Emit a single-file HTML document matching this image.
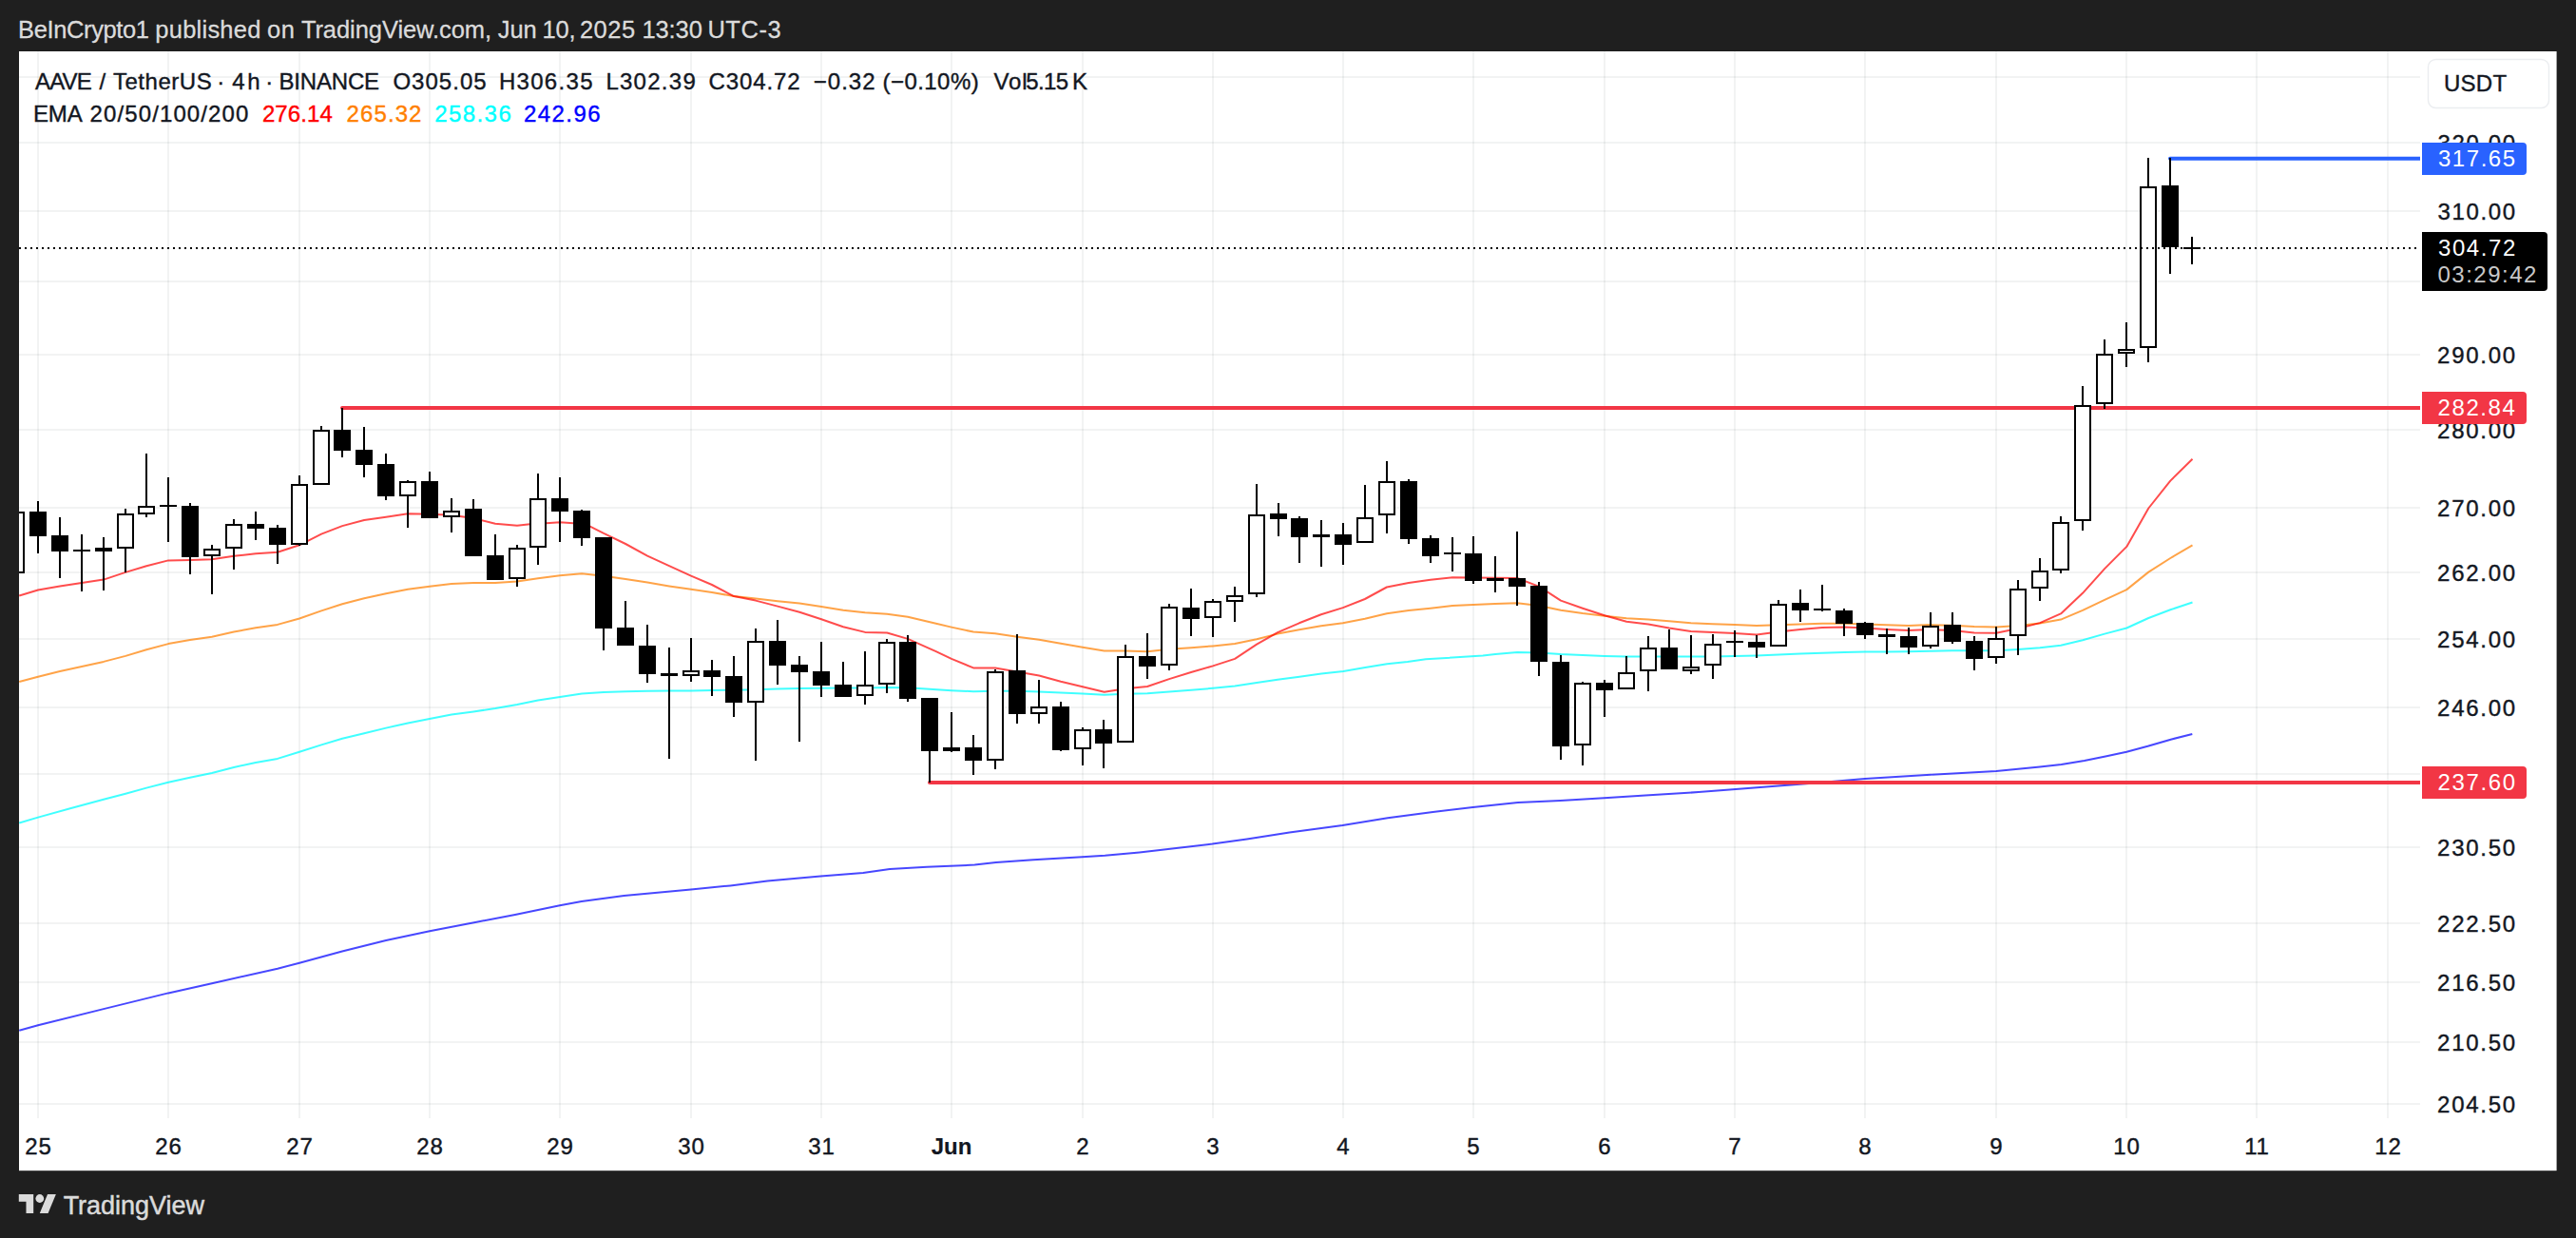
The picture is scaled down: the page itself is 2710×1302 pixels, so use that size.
<!DOCTYPE html>
<html lang="en"><head><meta charset="utf-8"><title>AAVE / TetherUS chart</title>
<style>
html,body{margin:0;padding:0;background:#1f1f1f;}
body{width:2710px;height:1302px;overflow:hidden;position:relative;font-family:"Liberation Sans",sans-serif;}
#snap{position:absolute;left:0;top:0;width:2710px;height:1302px;display:block;}
#snap text{font-family:"Liberation Sans",sans-serif;}
</style></head><body>
<svg id="snap" width="2710" height="1302" viewBox="0 0 2710 1302">
<rect x="0" y="0" width="2710" height="1302" fill="#1f1f1f"/>
<text y="40.3" font-size="25.5" stroke-width="0.3"><tspan x="19.06" letter-spacing="-0.379" fill="#dbdbdb" stroke="#dbdbdb">BeInCrypto1</tspan> <tspan x="163.37" letter-spacing="0.228" fill="#dbdbdb" stroke="#dbdbdb">published</tspan> <tspan x="280.98" letter-spacing="0.645" fill="#dbdbdb" stroke="#dbdbdb">on</tspan> <tspan x="316.89" letter-spacing="-0.068" fill="#dbdbdb" stroke="#dbdbdb">TradingView.com,</tspan> <tspan x="523.82" letter-spacing="-0.171" fill="#dbdbdb" stroke="#dbdbdb">Jun</tspan> <tspan x="570.49" letter-spacing="-0.119" fill="#dbdbdb" stroke="#dbdbdb">10,</tspan> <tspan x="609.93" letter-spacing="0.486" fill="#dbdbdb" stroke="#dbdbdb">2025</tspan> <tspan x="675.39" letter-spacing="-0.086" fill="#dbdbdb" stroke="#dbdbdb">13:30</tspan> <tspan x="744.39" letter-spacing="0.584" fill="#dbdbdb" stroke="#dbdbdb">UTC-3</tspan></text>
<rect x="20" y="54" width="2669.6" height="1177.2" fill="#ffffff"/>
<defs><clipPath id="plot"><rect x="20" y="54" width="2526" height="1122"/></clipPath></defs>
<g fill="rgba(42,46,57,0.06)"><rect x="39" y="54" width="2" height="1122"/><rect x="176" y="54" width="2" height="1122"/><rect x="314" y="54" width="2" height="1122"/><rect x="451" y="54" width="2" height="1122"/><rect x="588" y="54" width="2" height="1122"/><rect x="726" y="54" width="2" height="1122"/><rect x="863" y="54" width="2" height="1122"/><rect x="1000" y="54" width="2" height="1122"/><rect x="1138" y="54" width="2" height="1122"/><rect x="1275" y="54" width="2" height="1122"/><rect x="1412" y="54" width="2" height="1122"/><rect x="1549" y="54" width="2" height="1122"/><rect x="1687" y="54" width="2" height="1122"/><rect x="1824" y="54" width="2" height="1122"/><rect x="1961" y="54" width="2" height="1122"/><rect x="2099" y="54" width="2" height="1122"/><rect x="2236" y="54" width="2" height="1122"/><rect x="2373" y="54" width="2" height="1122"/><rect x="2511" y="54" width="2" height="1122"/><rect x="20" y="80" width="2526" height="2"/><rect x="20" y="149" width="2526" height="2"/><rect x="20" y="221" width="2526" height="2"/><rect x="20" y="295" width="2526" height="2"/><rect x="20" y="372" width="2526" height="2"/><rect x="20" y="451" width="2526" height="2"/><rect x="20" y="533" width="2526" height="2"/><rect x="20" y="601" width="2526" height="2"/><rect x="20" y="671" width="2526" height="2"/><rect x="20" y="743" width="2526" height="2"/><rect x="20" y="813" width="2526" height="2"/><rect x="20" y="890" width="2526" height="2"/><rect x="20" y="970" width="2526" height="2"/><rect x="20" y="1032" width="2526" height="2"/><rect x="20" y="1095" width="2526" height="2"/><rect x="20" y="1160" width="2526" height="2"/></g>
<g clip-path="url(#plot)">
<polyline points="20.2,1083.7 40.0,1078.3 109.0,1061.1 177.1,1044.4 222.9,1034.3 292.0,1018.7 315.0,1012.7 360.0,1000.5 406.1,989.0 452.0,979.3 500.0,969.9 541.9,962.1 588.9,952.3 611.8,948.1 656.5,942.0 726.9,935.6 768.3,931.4 807.4,926.6 863.3,921.6 908.0,917.9 936.0,914.0 975.1,911.8 1025.4,909.6 1047.8,907.0 1086.9,904.2 1138.6,901.2 1162.4,899.8 1198.7,896.4 1275.5,887.6 1311.8,882.5 1356.5,875.5 1412.4,868.0 1459.9,860.2 1507.4,854.0 1549.4,849.0 1596.9,844.0 1641.6,842.0 1687.7,839.2 1731.0,836.4 1786.9,833.1 1826.0,830.0 1870.8,826.6 1900.0,824.2 1962.0,819.1 2031.0,814.7 2100.0,811.0 2146.0,806.4 2168.6,804.0 2192.8,799.9 2215.0,795.5 2237.2,790.8 2259.5,784.8 2283.7,777.7 2306.3,772.0" fill="none" stroke="#0000ff" stroke-width="2.0" stroke-opacity="0.72" stroke-linejoin="round" stroke-linecap="butt"/>
<polyline points="20.2,865.6 40.0,859.6 74.7,850.0 109.0,840.7 132.1,834.7 154.1,828.6 177.1,822.7 199.9,817.7 222.9,813.0 246.0,807.0 269.0,801.9 292.0,797.9 315.0,790.8 338.1,783.4 360.1,776.7 383.1,771.2 406.1,765.6 429.1,760.5 451.9,755.9 475.0,751.5 498.0,748.4 521.0,745.0 544.0,741.0 566.0,736.5 589.1,732.9 612.1,729.5 635.1,728.0 658.1,727.2 681.1,726.8 704.0,726.6 727.0,726.4 749.0,726.0 772.0,725.8 795.0,725.2 818.1,724.4 841.1,724.0 864.1,723.8 887.1,723.6 910.1,723.6 933.2,723.0 955.0,723.2 978.0,724.8 1001.0,726.2 1024.0,727.2 1047.0,726.8 1070.1,726.8 1093.1,727.6 1115.9,728.6 1138.9,729.6 1161.7,730.7 1184.0,729.8 1207.0,729.2 1230.0,727.6 1253.0,725.8 1276.0,723.8 1299.1,721.6 1322.1,718.1 1344.1,714.7 1367.1,711.7 1390.1,708.6 1413.2,706.0 1436.2,702.0 1459.2,698.3 1480.8,695.9 1500.0,693.3 1560.0,689.5 1573.1,688.1 1596.1,685.9 1619.2,686.5 1642.0,688.1 1665.0,689.1 1688.0,690.0 1711.1,690.4 1734.1,690.4 1755.9,690.6 1778.9,690.6 1801.9,690.4 1824.9,690.0 1848.0,689.5 1871.0,688.5 1894.0,687.5 1917.0,686.7 1940.1,686.1 1961.9,685.5 1984.9,685.5 2007.9,685.3 2030.9,684.8 2053.9,684.3 2076.9,684.3 2100.0,684.3 2123.0,682.9 2146.0,681.3 2168.0,678.7 2191.0,673.2 2214.1,666.6 2237.3,660.5 2260.3,650.0 2283.3,641.3 2306.5,633.5" fill="none" stroke="#00ffff" stroke-width="2.0" stroke-opacity="0.75" stroke-linejoin="round" stroke-linecap="butt"/>
<polyline points="20.2,717.1 40.0,711.7 63.0,706.0 86.0,701.0 109.0,695.9 132.1,689.9 154.1,683.2 177.1,677.1 199.9,673.1 222.9,669.7 246.0,664.6 269.0,660.2 292.0,656.9 315.0,650.5 338.1,642.4 360.1,635.3 383.1,629.3 406.1,624.2 429.1,619.8 451.9,616.8 475.0,614.1 498.0,613.1 521.0,613.0 544.0,611.4 566.0,608.3 589.1,605.3 612.1,603.3 635.1,605.7 658.1,608.9 681.1,612.6 704.0,616.4 727.0,619.8 749.0,622.9 772.0,627.1 795.0,629.5 818.1,632.2 841.1,634.6 864.1,638.0 887.1,641.7 910.1,644.3 933.2,645.7 955.0,648.7 984.7,655.8 1001.0,659.6 1024.0,664.6 1047.0,666.2 1070.1,669.7 1093.1,672.7 1115.9,676.7 1138.9,680.8 1161.7,684.4 1184.0,684.4 1207.0,685.2 1230.0,682.8 1253.0,681.2 1276.0,679.4 1299.1,677.1 1322.1,672.3 1344.1,666.6 1366.8,662.3 1389.8,658.3 1412.8,655.3 1435.9,650.8 1458.9,645.2 1481.9,642.1 1504.9,639.7 1528.0,637.1 1550.0,636.1 1573.0,635.1 1596.1,634.2 1619.2,637.0 1642.0,641.7 1665.0,645.1 1688.0,647.7 1711.1,650.2 1734.1,651.4 1755.9,653.2 1778.9,655.2 1801.9,656.2 1824.9,657.0 1848.0,658.0 1871.0,657.2 1894.0,656.4 1917.0,655.8 1940.1,655.8 1961.9,656.4 1984.9,657.2 2007.9,658.0 2030.9,657.1 2053.9,657.7 2076.9,659.1 2100.0,659.5 2123.0,658.1 2146.0,655.5 2168.0,651.6 2191.0,641.9 2214.1,630.8 2237.3,620.1 2260.3,601.6 2283.3,587.0 2306.5,573.3" fill="none" stroke="#ff8000" stroke-width="2.0" stroke-opacity="0.72" stroke-linejoin="round" stroke-linecap="butt"/>
<polyline points="20.2,626.6 40.0,620.5 63.0,616.5 86.0,613.0 109.0,609.6 132.1,601.9 154.1,595.3 177.1,589.4 199.9,589.0 222.9,588.2 246.0,584.8 269.0,582.2 292.0,580.7 315.0,573.3 338.1,561.6 360.1,553.1 383.1,547.0 406.1,543.8 429.1,540.3 451.9,540.8 475.0,541.8 498.0,545.0 521.0,550.8 544.0,552.8 557.6,551.2 574.7,550.2 589.1,549.2 603.0,550.2 621.2,553.8 635.1,560.9 658.1,572.0 681.1,584.7 704.0,595.2 727.0,605.7 749.0,615.0 772.0,627.1 795.0,631.6 818.1,637.6 841.1,643.7 864.1,651.3 887.1,659.2 910.1,664.9 933.2,665.5 955.0,671.9 984.7,685.1 1001.0,692.9 1024.0,702.4 1047.0,702.4 1070.1,706.4 1093.1,710.5 1115.9,716.7 1138.9,722.2 1161.7,727.8 1184.0,724.2 1207.0,722.0 1230.0,714.1 1253.0,707.0 1276.0,700.4 1299.1,692.9 1322.1,677.7 1344.1,665.2 1366.8,655.3 1389.8,646.2 1412.8,639.1 1435.9,630.0 1458.9,617.5 1481.9,612.9 1504.9,609.8 1528.0,607.2 1550.0,607.4 1573.0,607.8 1596.1,608.0 1619.2,616.9 1642.0,631.6 1665.0,639.7 1688.0,647.3 1711.1,653.8 1734.1,656.4 1755.9,660.5 1778.9,663.9 1801.9,664.9 1824.9,665.9 1848.0,667.5 1871.0,664.5 1894.0,661.9 1917.0,659.9 1940.1,659.5 1961.9,660.5 1984.9,661.9 2007.9,662.9 2030.9,662.1 2053.9,663.1 2076.9,665.6 2100.0,665.8 2123.0,661.1 2146.0,655.1 2168.0,645.4 2191.0,623.8 2214.1,598.1 2237.3,574.9 2260.3,534.5 2283.3,505.6 2306.5,482.8" fill="none" stroke="#ff0000" stroke-width="2.0" stroke-opacity="0.7" stroke-linejoin="round" stroke-linecap="butt"/>
<path d="M360,429 H2550 M978,823 H2550" stroke="#f23645" stroke-width="4" stroke-linecap="round" fill="none"/>
<path d="M2283,166.7 H2550" stroke="#2962ff" stroke-width="4" stroke-linecap="round" fill="none"/>
<rect x="16" y="538" width="2" height="65" fill="#000"/><rect x="9" y="539" width="16" height="63" fill="#fff" stroke="#000" stroke-width="2"/><rect x="39" y="527" width="2" height="55" fill="#000"/><rect x="31" y="538" width="18" height="26" fill="#000"/><rect x="62" y="544" width="2" height="64" fill="#000"/><rect x="54" y="563" width="18" height="17" fill="#000"/><rect x="85" y="562" width="2" height="60" fill="#000"/><rect x="77" y="578" width="18" height="2" fill="#000"/><rect x="108" y="565" width="2" height="56" fill="#000"/><rect x="100" y="576" width="18" height="4" fill="#000"/><rect x="131" y="535" width="2" height="67" fill="#000"/><rect x="124" y="541" width="16" height="35" fill="#fff" stroke="#000" stroke-width="2"/><rect x="153" y="477" width="2" height="67" fill="#000"/><rect x="146" y="533" width="16" height="7" fill="#fff" stroke="#000" stroke-width="2"/><rect x="176" y="502" width="2" height="68" fill="#000"/><rect x="168" y="531" width="18" height="2" fill="#000"/><rect x="199" y="529" width="2" height="75" fill="#000"/><rect x="191" y="532" width="18" height="54" fill="#000"/><rect x="222" y="573" width="2" height="52" fill="#000"/><rect x="215" y="578" width="16" height="6" fill="#fff" stroke="#000" stroke-width="2"/><rect x="245" y="546" width="2" height="53" fill="#000"/><rect x="238" y="552" width="16" height="24" fill="#fff" stroke="#000" stroke-width="2"/><rect x="268" y="538" width="2" height="30" fill="#000"/><rect x="260" y="551" width="18" height="5" fill="#000"/><rect x="291" y="552" width="2" height="41" fill="#000"/><rect x="283" y="555" width="18" height="18" fill="#000"/><rect x="314" y="500" width="2" height="74" fill="#000"/><rect x="307" y="510" width="16" height="62" fill="#fff" stroke="#000" stroke-width="2"/><rect x="337" y="448" width="2" height="62" fill="#000"/><rect x="330" y="453" width="16" height="56" fill="#fff" stroke="#000" stroke-width="2"/><rect x="359" y="429" width="2" height="52" fill="#000"/><rect x="351" y="452" width="18" height="22" fill="#000"/><rect x="382" y="449" width="2" height="53" fill="#000"/><rect x="374" y="473" width="18" height="16" fill="#000"/><rect x="405" y="477" width="2" height="49" fill="#000"/><rect x="397" y="488" width="18" height="34" fill="#000"/><rect x="428" y="505" width="2" height="50" fill="#000"/><rect x="421" y="507" width="16" height="14" fill="#fff" stroke="#000" stroke-width="2"/><rect x="451" y="496" width="2" height="49" fill="#000"/><rect x="443" y="506" width="18" height="39" fill="#000"/><rect x="474" y="524" width="2" height="36" fill="#000"/><rect x="467" y="538" width="16" height="5" fill="#fff" stroke="#000" stroke-width="2"/><rect x="497" y="525" width="2" height="60" fill="#000"/><rect x="489" y="535" width="18" height="50" fill="#000"/><rect x="520" y="562" width="2" height="48" fill="#000"/><rect x="512" y="584" width="18" height="26" fill="#000"/><rect x="543" y="573" width="2" height="44" fill="#000"/><rect x="536" y="577" width="16" height="31" fill="#fff" stroke="#000" stroke-width="2"/><rect x="565" y="498" width="2" height="96" fill="#000"/><rect x="558" y="525" width="16" height="50" fill="#fff" stroke="#000" stroke-width="2"/><rect x="588" y="502" width="2" height="68" fill="#000"/><rect x="580" y="524" width="18" height="14" fill="#000"/><rect x="611" y="536" width="2" height="38" fill="#000"/><rect x="603" y="537" width="18" height="29" fill="#000"/><rect x="634" y="565" width="2" height="119" fill="#000"/><rect x="626" y="565" width="18" height="96" fill="#000"/><rect x="657" y="632" width="2" height="47" fill="#000"/><rect x="649" y="660" width="18" height="19" fill="#000"/><rect x="680" y="657" width="2" height="61" fill="#000"/><rect x="672" y="679" width="18" height="30" fill="#000"/><rect x="703" y="681" width="2" height="117" fill="#000"/><rect x="695" y="708" width="18" height="3" fill="#000"/><rect x="726" y="671" width="2" height="46" fill="#000"/><rect x="719" y="706" width="16" height="4" fill="#fff" stroke="#000" stroke-width="2"/><rect x="748" y="694" width="2" height="38" fill="#000"/><rect x="740" y="705" width="18" height="7" fill="#000"/><rect x="771" y="690" width="2" height="64" fill="#000"/><rect x="763" y="711" width="18" height="28" fill="#000"/><rect x="794" y="661" width="2" height="139" fill="#000"/><rect x="787" y="675" width="16" height="63" fill="#fff" stroke="#000" stroke-width="2"/><rect x="817" y="652" width="2" height="68" fill="#000"/><rect x="809" y="674" width="18" height="26" fill="#000"/><rect x="840" y="690" width="2" height="90" fill="#000"/><rect x="832" y="699" width="18" height="8" fill="#000"/><rect x="863" y="675" width="2" height="58" fill="#000"/><rect x="855" y="706" width="18" height="15" fill="#000"/><rect x="886" y="696" width="2" height="37" fill="#000"/><rect x="878" y="720" width="18" height="13" fill="#000"/><rect x="909" y="685" width="2" height="56" fill="#000"/><rect x="902" y="721" width="16" height="10" fill="#fff" stroke="#000" stroke-width="2"/><rect x="932" y="672" width="2" height="57" fill="#000"/><rect x="925" y="676" width="16" height="43" fill="#fff" stroke="#000" stroke-width="2"/><rect x="954" y="668" width="2" height="70" fill="#000"/><rect x="946" y="675" width="18" height="60" fill="#000"/><rect x="977" y="734" width="2" height="89" fill="#000"/><rect x="969" y="734" width="18" height="56" fill="#000"/><rect x="1000" y="749" width="2" height="42" fill="#000"/><rect x="992" y="786" width="18" height="4" fill="#000"/><rect x="1023" y="773" width="2" height="42" fill="#000"/><rect x="1015" y="786" width="18" height="14" fill="#000"/><rect x="1046" y="704" width="2" height="105" fill="#000"/><rect x="1039" y="707" width="16" height="92" fill="#fff" stroke="#000" stroke-width="2"/><rect x="1069" y="667" width="2" height="94" fill="#000"/><rect x="1061" y="705" width="18" height="46" fill="#000"/><rect x="1092" y="715" width="2" height="46" fill="#000"/><rect x="1085" y="744" width="16" height="6" fill="#fff" stroke="#000" stroke-width="2"/><rect x="1115" y="738" width="2" height="52" fill="#000"/><rect x="1107" y="743" width="18" height="46" fill="#000"/><rect x="1138" y="765" width="2" height="40" fill="#000"/><rect x="1131" y="768" width="16" height="19" fill="#fff" stroke="#000" stroke-width="2"/><rect x="1160" y="757" width="2" height="51" fill="#000"/><rect x="1152" y="767" width="18" height="15" fill="#000"/><rect x="1183" y="678" width="2" height="103" fill="#000"/><rect x="1176" y="691" width="16" height="89" fill="#fff" stroke="#000" stroke-width="2"/><rect x="1206" y="666" width="2" height="48" fill="#000"/><rect x="1198" y="690" width="18" height="11" fill="#000"/><rect x="1229" y="635" width="2" height="70" fill="#000"/><rect x="1222" y="639" width="16" height="60" fill="#fff" stroke="#000" stroke-width="2"/><rect x="1252" y="619" width="2" height="50" fill="#000"/><rect x="1244" y="639" width="18" height="12" fill="#000"/><rect x="1275" y="630" width="2" height="40" fill="#000"/><rect x="1268" y="633" width="16" height="16" fill="#fff" stroke="#000" stroke-width="2"/><rect x="1298" y="617" width="2" height="37" fill="#000"/><rect x="1291" y="627" width="16" height="5" fill="#fff" stroke="#000" stroke-width="2"/><rect x="1321" y="509" width="2" height="119" fill="#000"/><rect x="1314" y="542" width="16" height="82" fill="#fff" stroke="#000" stroke-width="2"/><rect x="1344" y="529" width="2" height="35" fill="#000"/><rect x="1336" y="540" width="18" height="6" fill="#000"/><rect x="1366" y="543" width="2" height="49" fill="#000"/><rect x="1358" y="545" width="18" height="20" fill="#000"/><rect x="1389" y="547" width="2" height="49" fill="#000"/><rect x="1381" y="562" width="18" height="3" fill="#000"/><rect x="1412" y="550" width="2" height="44" fill="#000"/><rect x="1404" y="562" width="18" height="11" fill="#000"/><rect x="1435" y="510" width="2" height="61" fill="#000"/><rect x="1428" y="545" width="16" height="25" fill="#fff" stroke="#000" stroke-width="2"/><rect x="1458" y="485" width="2" height="76" fill="#000"/><rect x="1451" y="507" width="16" height="34" fill="#fff" stroke="#000" stroke-width="2"/><rect x="1481" y="504" width="2" height="68" fill="#000"/><rect x="1473" y="506" width="18" height="61" fill="#000"/><rect x="1504" y="563" width="2" height="29" fill="#000"/><rect x="1496" y="566" width="18" height="19" fill="#000"/><rect x="1527" y="565" width="2" height="36" fill="#000"/><rect x="1519" y="581" width="18" height="2" fill="#000"/><rect x="1549" y="564" width="2" height="50" fill="#000"/><rect x="1541" y="582" width="18" height="29" fill="#000"/><rect x="1572" y="585" width="2" height="38" fill="#000"/><rect x="1564" y="608" width="18" height="3" fill="#000"/><rect x="1595" y="559" width="2" height="78" fill="#000"/><rect x="1587" y="608" width="18" height="9" fill="#000"/><rect x="1618" y="612" width="2" height="99" fill="#000"/><rect x="1610" y="616" width="18" height="80" fill="#000"/><rect x="1641" y="689" width="2" height="110" fill="#000"/><rect x="1633" y="696" width="18" height="89" fill="#000"/><rect x="1664" y="717" width="2" height="88" fill="#000"/><rect x="1657" y="719" width="16" height="64" fill="#fff" stroke="#000" stroke-width="2"/><rect x="1687" y="715" width="2" height="39" fill="#000"/><rect x="1679" y="718" width="18" height="8" fill="#000"/><rect x="1710" y="690" width="2" height="35" fill="#000"/><rect x="1703" y="708" width="16" height="16" fill="#fff" stroke="#000" stroke-width="2"/><rect x="1733" y="669" width="2" height="58" fill="#000"/><rect x="1726" y="682" width="16" height="23" fill="#fff" stroke="#000" stroke-width="2"/><rect x="1755" y="662" width="2" height="42" fill="#000"/><rect x="1747" y="681" width="18" height="23" fill="#000"/><rect x="1778" y="668" width="2" height="41" fill="#000"/><rect x="1771" y="702" width="16" height="3" fill="#fff" stroke="#000" stroke-width="2"/><rect x="1801" y="667" width="2" height="47" fill="#000"/><rect x="1794" y="678" width="16" height="21" fill="#fff" stroke="#000" stroke-width="2"/><rect x="1824" y="663" width="2" height="28" fill="#000"/><rect x="1816" y="674" width="18" height="2" fill="#000"/><rect x="1847" y="668" width="2" height="24" fill="#000"/><rect x="1839" y="675" width="18" height="6" fill="#000"/><rect x="1870" y="631" width="2" height="49" fill="#000"/><rect x="1863" y="636" width="16" height="43" fill="#fff" stroke="#000" stroke-width="2"/><rect x="1893" y="620" width="2" height="34" fill="#000"/><rect x="1885" y="634" width="18" height="8" fill="#000"/><rect x="1916" y="615" width="2" height="28" fill="#000"/><rect x="1908" y="640" width="18" height="2" fill="#000"/><rect x="1939" y="640" width="2" height="29" fill="#000"/><rect x="1931" y="642" width="18" height="14" fill="#000"/><rect x="1961" y="654" width="2" height="18" fill="#000"/><rect x="1953" y="655" width="18" height="13" fill="#000"/><rect x="1984" y="661" width="2" height="27" fill="#000"/><rect x="1976" y="667" width="18" height="3" fill="#000"/><rect x="2007" y="660" width="2" height="28" fill="#000"/><rect x="1999" y="669" width="18" height="12" fill="#000"/><rect x="2030" y="644" width="2" height="38" fill="#000"/><rect x="2023" y="659" width="16" height="20" fill="#fff" stroke="#000" stroke-width="2"/><rect x="2053" y="644" width="2" height="33" fill="#000"/><rect x="2045" y="657" width="18" height="18" fill="#000"/><rect x="2076" y="669" width="2" height="36" fill="#000"/><rect x="2068" y="674" width="18" height="19" fill="#000"/><rect x="2099" y="659" width="2" height="39" fill="#000"/><rect x="2092" y="672" width="16" height="19" fill="#fff" stroke="#000" stroke-width="2"/><rect x="2122" y="610" width="2" height="79" fill="#000"/><rect x="2115" y="620" width="16" height="48" fill="#fff" stroke="#000" stroke-width="2"/><rect x="2145" y="587" width="2" height="45" fill="#000"/><rect x="2138" y="601" width="16" height="17" fill="#fff" stroke="#000" stroke-width="2"/><rect x="2167" y="543" width="2" height="60" fill="#000"/><rect x="2160" y="550" width="16" height="49" fill="#fff" stroke="#000" stroke-width="2"/><rect x="2190" y="406" width="2" height="152" fill="#000"/><rect x="2183" y="427" width="16" height="120" fill="#fff" stroke="#000" stroke-width="2"/><rect x="2213" y="357" width="2" height="73" fill="#000"/><rect x="2206" y="373" width="16" height="51" fill="#fff" stroke="#000" stroke-width="2"/><rect x="2236" y="339" width="2" height="47" fill="#000"/><rect x="2229" y="368" width="16" height="3" fill="#fff" stroke="#000" stroke-width="2"/><rect x="2259" y="166" width="2" height="215" fill="#000"/><rect x="2252" y="197" width="16" height="168" fill="#fff" stroke="#000" stroke-width="2"/><rect x="2282" y="166" width="2" height="122" fill="#000"/><rect x="2274" y="195" width="18" height="65" fill="#000"/><rect x="2305" y="249" width="2" height="29" fill="#000"/><rect x="2297" y="260" width="18" height="2" fill="#000"/>
<line x1="20" y1="261" x2="2546" y2="261" stroke="#000" stroke-width="2" stroke-dasharray="2 4"/>
</g>
<text y="93.6" font-size="24" stroke-width="0.4"><tspan x="36.90" letter-spacing="-0.767" fill="#131722" stroke="#131722">AAVE</tspan> <tspan x="104.50" letter-spacing="4.480" fill="#131722" stroke="#131722">/</tspan> <tspan x="118.92" letter-spacing="0.540" fill="#131722" stroke="#131722">TetherUS</tspan> <tspan x="228.24" letter-spacing="0.400" fill="#131722" stroke="#131722">·</tspan> <tspan x="244.32" letter-spacing="2.680" fill="#131722" stroke="#131722">4h</tspan> <tspan x="279.24" letter-spacing="0.400" fill="#131722" stroke="#131722">·</tspan> <tspan x="293.38" letter-spacing="-0.167" fill="#131722" stroke="#131722">BINANCE</tspan> <tspan x="413.42" letter-spacing="1.033" fill="#131722" stroke="#131722">O305.05</tspan> <tspan x="524.88" letter-spacing="1.310" fill="#131722" stroke="#131722">H306.35</tspan> <tspan x="637.38" letter-spacing="1.273" fill="#131722" stroke="#131722">L302.39</tspan> <tspan x="745.60" letter-spacing="0.877" fill="#131722" stroke="#131722">C304.72</tspan> <tspan x="855.82" letter-spacing="0.985" fill="#131722" stroke="#131722">−0.32</tspan> <tspan x="928.46" letter-spacing="0.460" fill="#131722" stroke="#131722">(−0.10%)</tspan> <tspan x="1045.60" letter-spacing="0.790" fill="#131722" stroke="#131722">Vol</tspan><tspan x="1079.24" letter-spacing="-0.587" fill="#131722" stroke="#131722">5.15</tspan> <tspan x="1127.98" letter-spacing="-0.120" fill="#131722" stroke="#131722">K</tspan></text>
<text y="127.6" font-size="24" stroke-width="0.4"><tspan x="34.98" letter-spacing="-0.170" fill="#131722" stroke="#131722">EMA</tspan> <tspan x="94.60" letter-spacing="1.105" fill="#131722" stroke="#131722">20/50/100/200</tspan> <tspan x="275.90" letter-spacing="0.092" fill="#ff0000" stroke="#ff0000">276.14</tspan> <tspan x="364.60" letter-spacing="1.088" fill="#ff8000" stroke="#ff8000">265.32</tspan> <tspan x="457.30" letter-spacing="1.404" fill="#00ffff" stroke="#00ffff">258.36</tspan> <tspan x="551.00" letter-spacing="1.444" fill="#0000ff" stroke="#0000ff">242.96</tspan></text>
<text x="2564.46" y="158.6" font-size="24" fill="#131722" letter-spacing="1.668" stroke="#131722" stroke-width="0.4">320.00</text>
<text x="2564.46" y="230.6" font-size="24" fill="#131722" letter-spacing="1.668" stroke="#131722" stroke-width="0.4">310.00</text>
<text x="2564.10" y="381.6" font-size="24" fill="#131722" letter-spacing="1.740" stroke="#131722" stroke-width="0.4">290.00</text>
<text x="2564.10" y="460.6" font-size="24" fill="#131722" letter-spacing="1.740" stroke="#131722" stroke-width="0.4">280.00</text>
<text x="2564.10" y="542.6" font-size="24" fill="#131722" letter-spacing="1.740" stroke="#131722" stroke-width="0.4">270.00</text>
<text x="2564.10" y="610.6" font-size="24" fill="#131722" letter-spacing="1.740" stroke="#131722" stroke-width="0.4">262.00</text>
<text x="2564.10" y="680.6" font-size="24" fill="#131722" letter-spacing="1.740" stroke="#131722" stroke-width="0.4">254.00</text>
<text x="2564.10" y="752.6" font-size="24" fill="#131722" letter-spacing="1.740" stroke="#131722" stroke-width="0.4">246.00</text>
<text x="2564.10" y="899.6" font-size="24" fill="#131722" letter-spacing="1.740" stroke="#131722" stroke-width="0.4">230.50</text>
<text x="2564.10" y="979.6" font-size="24" fill="#131722" letter-spacing="1.740" stroke="#131722" stroke-width="0.4">222.50</text>
<text x="2564.10" y="1041.6" font-size="24" fill="#131722" letter-spacing="1.740" stroke="#131722" stroke-width="0.4">216.50</text>
<text x="2564.10" y="1104.6" font-size="24" fill="#131722" letter-spacing="1.740" stroke="#131722" stroke-width="0.4">210.50</text>
<text x="2564.10" y="1169.6" font-size="24" fill="#131722" letter-spacing="1.740" stroke="#131722" stroke-width="0.4">204.50</text>
<rect x="2554.5" y="62.5" width="127" height="51" rx="8" ry="8" fill="#fff" stroke="#ebedf0" stroke-width="1.4"/>
<text x="2571.00" y="96.2" font-size="24" fill="#131722" letter-spacing="0.267" stroke="#131722" stroke-width="0.4">USDT</text>
<path d="M2548,150 H2654 Q2658,150 2658,154 V180 Q2658,184 2654,184 H2548 Z" fill="#2962ff"/>
<text x="2564.96" y="174.9" font-size="24" fill="#fff" letter-spacing="1.552">317.65</text>
<path d="M2548,412 H2654 Q2658,412 2658,416 V442 Q2658,446 2654,446 H2548 Z" fill="#f23645"/>
<text x="2564.60" y="437.4" font-size="24" fill="#fff" letter-spacing="1.552">282.84</text>
<path d="M2548,806 H2654 Q2658,806 2658,810 V836 Q2658,840 2654,840 H2548 Z" fill="#f23645"/>
<text x="2564.60" y="831.4" font-size="24" fill="#fff" letter-spacing="1.600">237.60</text>
<path d="M2548,244 H2676 Q2680,244 2680,248 V302 Q2680,306 2676,306 H2548 Z" fill="#000"/>
<text x="2564.96" y="269.2" font-size="24" fill="#fff" letter-spacing="1.576">304.72</text>
<text x="2564.46" y="296.6" font-size="24" fill="#c8c8c8" letter-spacing="1.509">03:29:42</text>
<text x="40.40" y="1213.9" font-size="24" fill="#131722" text-anchor="middle" stroke="#131722" stroke-width="0.4" letter-spacing="0.8">25</text>
<text x="177.40" y="1213.9" font-size="24" fill="#131722" text-anchor="middle" stroke="#131722" stroke-width="0.4" letter-spacing="0.8">26</text>
<text x="315.40" y="1213.9" font-size="24" fill="#131722" text-anchor="middle" stroke="#131722" stroke-width="0.4" letter-spacing="0.8">27</text>
<text x="452.40" y="1213.9" font-size="24" fill="#131722" text-anchor="middle" stroke="#131722" stroke-width="0.4" letter-spacing="0.8">28</text>
<text x="589.40" y="1213.9" font-size="24" fill="#131722" text-anchor="middle" stroke="#131722" stroke-width="0.4" letter-spacing="0.8">29</text>
<text x="727.40" y="1213.9" font-size="24" fill="#131722" text-anchor="middle" stroke="#131722" stroke-width="0.4" letter-spacing="0.8">30</text>
<text x="864.40" y="1213.9" font-size="24" fill="#131722" text-anchor="middle" stroke="#131722" stroke-width="0.4" letter-spacing="0.8">31</text>
<text x="1001.00" y="1213.9" font-size="24" fill="#131722" font-weight="700" text-anchor="middle" stroke="#131722" stroke-width="0.15">Jun</text>
<text x="1139.40" y="1213.9" font-size="24" fill="#131722" text-anchor="middle" stroke="#131722" stroke-width="0.4" letter-spacing="0.8">2</text>
<text x="1276.40" y="1213.9" font-size="24" fill="#131722" text-anchor="middle" stroke="#131722" stroke-width="0.4" letter-spacing="0.8">3</text>
<text x="1413.40" y="1213.9" font-size="24" fill="#131722" text-anchor="middle" stroke="#131722" stroke-width="0.4" letter-spacing="0.8">4</text>
<text x="1550.40" y="1213.9" font-size="24" fill="#131722" text-anchor="middle" stroke="#131722" stroke-width="0.4" letter-spacing="0.8">5</text>
<text x="1688.40" y="1213.9" font-size="24" fill="#131722" text-anchor="middle" stroke="#131722" stroke-width="0.4" letter-spacing="0.8">6</text>
<text x="1825.40" y="1213.9" font-size="24" fill="#131722" text-anchor="middle" stroke="#131722" stroke-width="0.4" letter-spacing="0.8">7</text>
<text x="1962.40" y="1213.9" font-size="24" fill="#131722" text-anchor="middle" stroke="#131722" stroke-width="0.4" letter-spacing="0.8">8</text>
<text x="2100.40" y="1213.9" font-size="24" fill="#131722" text-anchor="middle" stroke="#131722" stroke-width="0.4" letter-spacing="0.8">9</text>
<text x="2237.40" y="1213.9" font-size="24" fill="#131722" text-anchor="middle" stroke="#131722" stroke-width="0.4" letter-spacing="0.8">10</text>
<text x="2374.40" y="1213.9" font-size="24" fill="#131722" text-anchor="middle" stroke="#131722" stroke-width="0.4" letter-spacing="0.8">11</text>
<text x="2512.40" y="1213.9" font-size="24" fill="#131722" text-anchor="middle" stroke="#131722" stroke-width="0.4" letter-spacing="0.8">12</text>
<g transform="translate(19.8,1251.7) scale(1.1)" fill="#dbdbdb"><path d="M14 22H7V11H0V4h14v18z"/><circle cx="20" cy="8" r="4"/><path d="M28 22h-8l7.5-18h8L28 22z"/></g>
<text x="66.66" y="1276.8" font-size="27" fill="#dbdbdb" letter-spacing="-0.029" stroke="#dbdbdb" stroke-width="0.5">TradingView</text>
</svg>
</body></html>
